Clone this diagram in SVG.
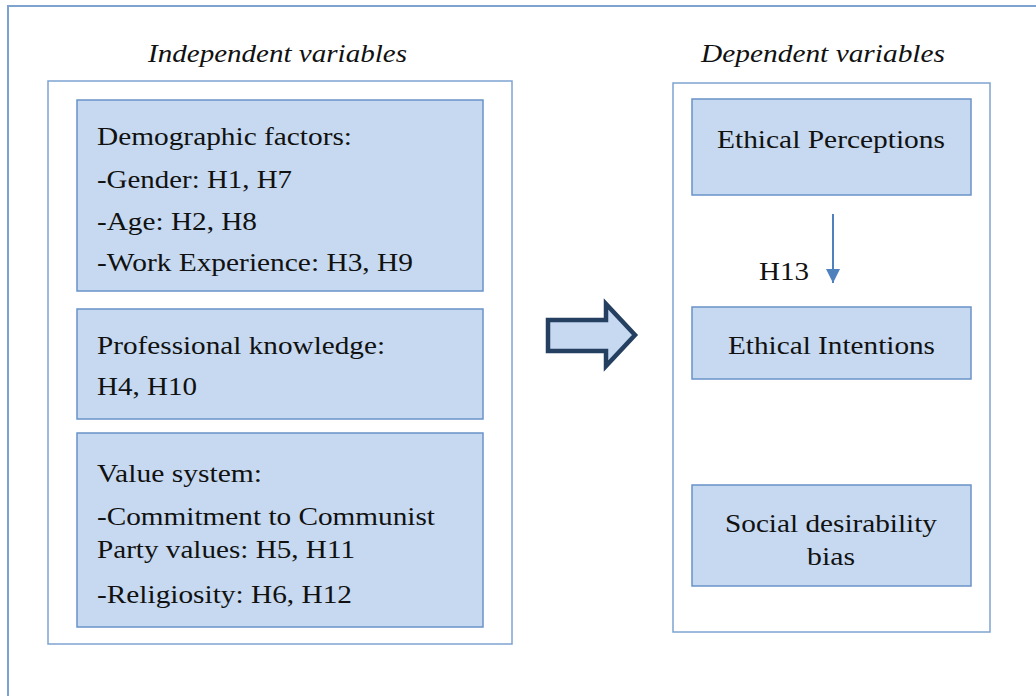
<svg xmlns="http://www.w3.org/2000/svg" width="1036" height="696" viewBox="0 0 1036 696">
  <style>
    .frame { fill: none; stroke: #7EA3D0; stroke-width: 2; }
    .panel { fill: #FFFFFF; stroke: #7EA3D0; stroke-width: 1.5; }
    .box { fill: #C6D9F0; stroke: #6A93C8; stroke-width: 1.5; }
    text { font-family: "Liberation Serif", "Times New Roman", serif; font-size: 26px; fill: #111111; }
    .title { font-style: italic; }
  </style>
  <defs>
    <marker id="head" viewBox="0 0 10 10" refX="10" refY="5" markerWidth="16" markerHeight="14" markerUnits="userSpaceOnUse" orient="auto">
      <path d="M0,0 L10,5 L0,10 Z" fill="#4F81BD"/>
    </marker>
  </defs>

  <!-- outer frame: top and left edges -->
  <path class="frame" d="M8,696 L8,6 L1036,6"/>

  <!-- column titles -->
  <text class="title" x="148" y="62" textLength="259" lengthAdjust="spacingAndGlyphs">Independent variables</text>
  <text class="title" x="701" y="62" textLength="244" lengthAdjust="spacingAndGlyphs">Dependent variables</text>

  <g id="independent-panel">
    <rect class="panel" x="48" y="81" width="464" height="563"/>
  </g>
  <g id="demographic">
    <rect class="box" x="77" y="100" width="406" height="191"/>
    <text x="97" y="145" textLength="255" lengthAdjust="spacingAndGlyphs">Demographic factors:</text>
    <text x="97" y="188" textLength="195" lengthAdjust="spacingAndGlyphs">-Gender: H1, H7</text>
    <text x="97" y="230" textLength="160" lengthAdjust="spacingAndGlyphs">-Age: H2, H8</text>
    <text x="97" y="271" textLength="316" lengthAdjust="spacingAndGlyphs">-Work Experience: H3, H9</text>
  </g>
  <g id="professional">
    <rect class="box" x="77" y="309" width="406" height="110"/>
    <text x="97" y="354" textLength="288" lengthAdjust="spacingAndGlyphs">Professional knowledge:</text>
    <text x="97" y="395" textLength="100" lengthAdjust="spacingAndGlyphs">H4, H10</text>
  </g>
  <g id="values">
    <rect class="box" x="77" y="433" width="406" height="194"/>
    <text x="97" y="482" textLength="165" lengthAdjust="spacingAndGlyphs">Value system:</text>
    <text x="97" y="525" textLength="338" lengthAdjust="spacingAndGlyphs">-Commitment to Communist</text>
    <text x="97" y="558" textLength="258" lengthAdjust="spacingAndGlyphs">Party values: H5, H11</text>
    <text x="97" y="603" textLength="255" lengthAdjust="spacingAndGlyphs">-Religiosity: H6, H12</text>
  </g>

  <g id="dependent-panel">
    <rect class="panel" x="673" y="83" width="317" height="549"/>
  </g>
  <g id="perceptions">
    <rect class="box" x="692" y="99" width="279" height="96"/>
    <text x="717" y="148" textLength="228" lengthAdjust="spacingAndGlyphs">Ethical Perceptions</text>
  </g>
  <g id="intentions">
    <rect class="box" x="692" y="307" width="279" height="72"/>
    <text x="728" y="354" textLength="207" lengthAdjust="spacingAndGlyphs">Ethical Intentions</text>
  </g>
  <g id="social-desirability">
    <rect class="box" x="692" y="485" width="279" height="101"/>
    <text x="725" y="532" textLength="212" lengthAdjust="spacingAndGlyphs">Social desirability</text>
    <text x="807" y="565" textLength="48" lengthAdjust="spacingAndGlyphs">bias</text>
  </g>

  <g id="connectors">
    <path d="M548,320 L606,320 L606,304 L635,335 L606,366 L606,351 L548,351 Z" fill="#C6D9F0" stroke="#243F60" stroke-width="4.5" stroke-linejoin="miter"/>
    <line x1="833" y1="214" x2="833" y2="283" stroke="#4F81BD" stroke-width="2" marker-end="url(#head)"/>
    <text x="759" y="280" textLength="50" lengthAdjust="spacingAndGlyphs">H13</text>
  </g>
</svg>
